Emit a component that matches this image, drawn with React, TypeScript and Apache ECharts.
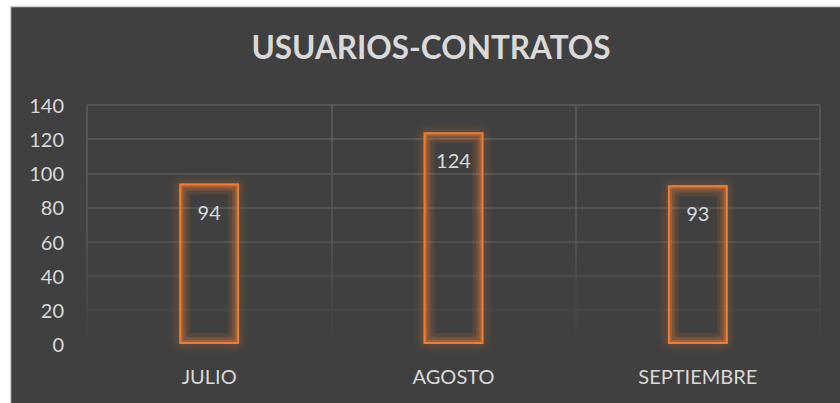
import React, { useEffect, useRef } from "react";
import * as echarts from "echarts";

const categories = ["JULIO", "AGOSTO", "SEPTIEMBRE"];
const values = [94, 124, 93];
const chartTitle = "USUARIOS-CONTRATOS";
const yMin = 0;
const yMax = 140;
const yStep = 20;

const FONT = "Lato, 'Open Sans', sans-serif";
const TEXT = "#d9d9d9";

export default function App() {
  const ref = useRef<HTMLDivElement>(null);
  useEffect(() => {
    if (!ref.current) return;
    const chart = echarts.init(ref.current, null, { renderer: "svg" });
    const gridGrad = new echarts.graphic.LinearGradient(
      0, 105, 0, 344,
      [
        { offset: 0, color: "#5d5d5d" },
        { offset: 0.5, color: "#595959" },
        { offset: 0.8, color: "#4a4a4a" },
        { offset: 1, color: "#404040" },
      ],
      true
    );
    const glow = (w: number, a: number, z: number) => ({
      type: "bar",
      data: values,
      barWidth: "24.5%",
      barGap: "-100%",
      silent: true,
      z,
      itemStyle: {
        color: "rgba(0,0,0,0)",
        borderColor: `rgba(237,125,49,${a})`,
        borderWidth: w,
      },
    });
    chart.setOption({
      animation: false,
      backgroundColor: "#ffffff",
      graphic: [
        {
          type: "rect",
          z: -10,
          silent: true,
          shape: { x: 10.5, y: 6.5, width: 840, height: 400 },
          style: { fill: "#404040", stroke: "#d4d4d4", lineWidth: 1.5 },
        },
        {
          type: "text",
          x: 431,
          y: 47,
          style: {
            text: chartTitle,
            fill: TEXT,
            font: `bold 31.5px ${FONT}`,
            textAlign: "center",
            textVerticalAlign: "middle",
          },
        },
      ],
      grid: { left: 87, right: 20, top: 105, bottom: 59, containLabel: false },
      xAxis: {
        type: "category",
        data: categories,
        boundaryGap: true,
        axisLine: { show: false },
        axisTick: { show: false },
        axisLabel: { color: TEXT, fontSize: 20, fontFamily: FONT, margin: 22 },
        splitLine: {
          show: true,
          showMinLine: true,
          showMaxLine: true,
          lineStyle: { color: gridGrad, width: 1.5 },
        },
      },
      yAxis: {
        type: "value",
        min: yMin,
        max: yMax,
        interval: yStep,
        axisLine: { show: false },
        axisTick: { show: false },
        axisLabel: { color: TEXT, fontSize: 20, fontFamily: FONT, margin: 23 },
        splitLine: { show: true, lineStyle: { color: gridGrad, width: 1.5 } },
      },
      series: [
        glow(11, 0.1, 1),
        glow(7, 0.16, 2),
        glow(4, 0.3, 3),
        {
          type: "bar",
          data: values,
          barWidth: "24.5%",
          barGap: "-100%",
          z: 4,
          itemStyle: {
            color: "rgba(0,0,0,0)",
            borderColor: "#ed7d31",
            borderWidth: 2,
            shadowBlur: 10,
            shadowColor: "rgba(237,125,49,0.9)",
          },
          label: {
            show: true,
            position: "insideTop",
            distance: 18,
            color: TEXT,
            fontSize: 20,
            fontFamily: FONT,
          },
        },
      ],
    });
    return () => chart.dispose();
  }, []);
  return (
    <div
      ref={ref}
      style={{ position: "fixed", left: 0, top: 0, width: 840, height: 403 }}
    />
  );
}
